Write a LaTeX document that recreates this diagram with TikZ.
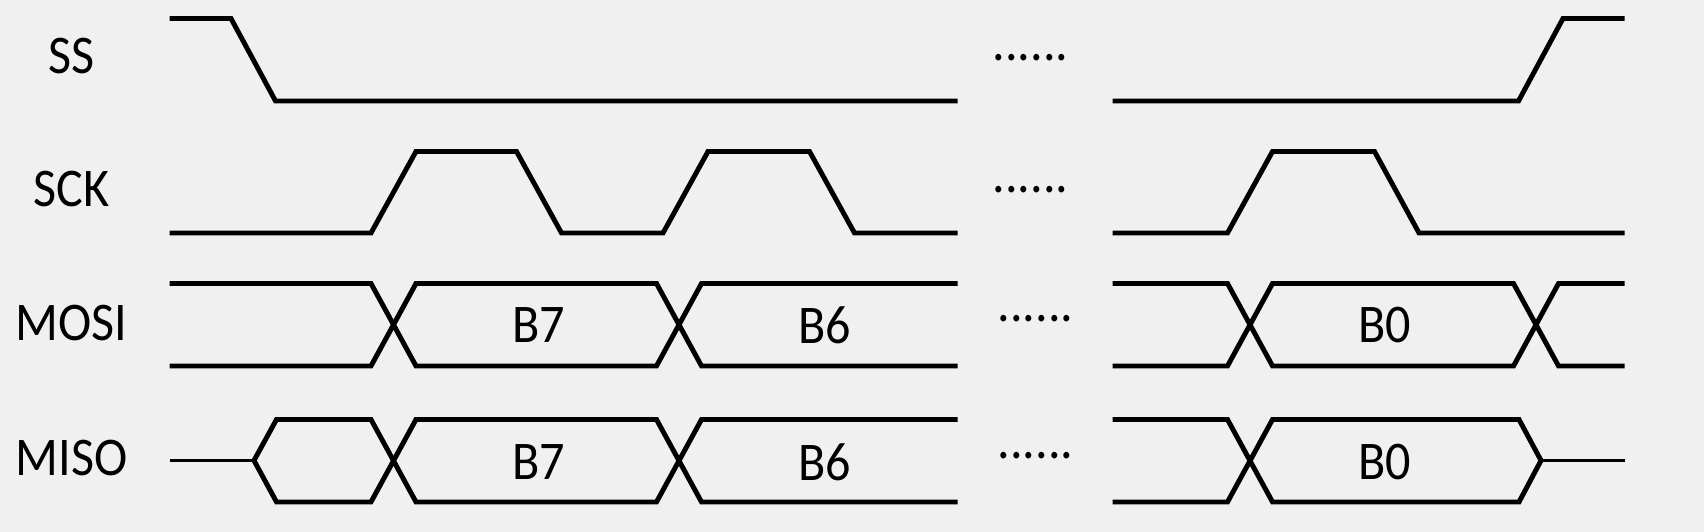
\documentclass[tikz,border=0pt]{standalone}
\usepackage{fontspec}
\setmainfont{Carlito}[FakeStretch=0.92]
\usepackage{tikz}
\definecolor{bggray}{RGB}{240,240,240}

\begin{document}
\begin{tikzpicture}[wave/.style={line width=1.4pt}, thinwave/.style={line width=1.1pt},
  sigtext/.style={font=\fontsize{15.5}{18}\selectfont, inner sep=0pt}]
\fill[bggray] (0,0) rectangle (17.04,5.32);
\useasboundingbox (0,0) rectangle (17.04,5.32);
% SS
\draw[wave] (1.695,5.135) -- (2.31,5.135) -- (2.755,4.31) -- (9.575,4.31);
\draw[wave] (11.125,4.31) -- (15.185,4.31) -- (15.63,5.135) -- (16.245,5.135);
% SCK
\draw[wave] (1.695,2.99) -- (3.71,2.99) -- (4.16,3.805) -- (5.165,3.805) -- (5.615,2.99) -- (6.63,2.99) -- (7.08,3.805) -- (8.095,3.805) -- (8.545,2.99) -- (9.575,2.99);
\draw[wave] (11.125,2.99) -- (12.275,2.99) -- (12.725,3.805) -- (13.745,3.805) -- (14.19,2.99) -- (16.245,2.99);
% MOSI
\draw[wave] (1.695,2.485) -- (3.71,2.485) -- (4.16,1.66) -- (6.565,1.66) -- (7.015,2.485) -- (9.575,2.485);
\draw[wave] (1.695,1.66) -- (3.71,1.66) -- (4.16,2.485) -- (6.565,2.485) -- (7.015,1.66) -- (9.575,1.66);
\draw[wave] (11.125,2.485) -- (12.275,2.485) -- (12.725,1.66) -- (15.135,1.66) -- (15.585,2.485) -- (16.245,2.485);
\draw[wave] (11.125,1.66) -- (12.275,1.66) -- (12.725,2.485) -- (15.135,2.485) -- (15.585,1.66) -- (16.245,1.66);
% MISO
\draw[thinwave] (1.695,0.715) -- (2.54,0.715);
\draw[wave] (2.54,0.715) -- (2.765,1.125) -- (3.71,1.125) -- (4.16,0.30) -- (6.565,0.30) -- (7.015,1.125) -- (9.575,1.125);
\draw[wave] (2.54,0.715) -- (2.765,0.30) -- (3.71,0.30) -- (4.16,1.125) -- (6.565,1.125) -- (7.015,0.30) -- (9.575,0.30);
\draw[wave] (11.125,1.125) -- (12.275,1.125) -- (12.725,0.30) -- (15.19,0.30) -- (15.41,0.715);
\draw[wave] (11.125,0.30) -- (12.275,0.30) -- (12.725,1.125) -- (15.19,1.125) -- (15.41,0.715);
\draw[thinwave] (15.41,0.715) -- (16.245,0.715);
% names
\node[sigtext] (ss) at (0.717,4.755) {SS};
\node[sigtext] (sck) at (0.717,3.43) {SCK};
\node[sigtext] (mosi) at (0.717,2.09) {MOSI};
\node[sigtext] (miso) at (0.717,0.735) {MISO};
% bits
\node[sigtext] (mosib7) at (5.386,2.065) {B7};
\node[sigtext] (mosib6) at (8.25,2.065) {B6};
\node[sigtext] (mosib0) at (13.847,2.065) {B0};
\node[sigtext] (misob7) at (5.386,0.70) {B7};
\node[sigtext] (misob6) at (8.25,0.70) {B6};
\node[sigtext] (misob0) at (13.847,0.70) {B0};
% gaps
\node[sigtext, anchor=base] (ssgap) at (10.305,4.71) {......};
\node[sigtext, anchor=base] (sckgap) at (10.305,3.39) {......};
\node[sigtext, anchor=base] (mosigap) at (10.355,2.107) {......};
\node[sigtext, anchor=base] (misogap) at (10.355,0.733) {......};
\end{tikzpicture}
\end{document}
